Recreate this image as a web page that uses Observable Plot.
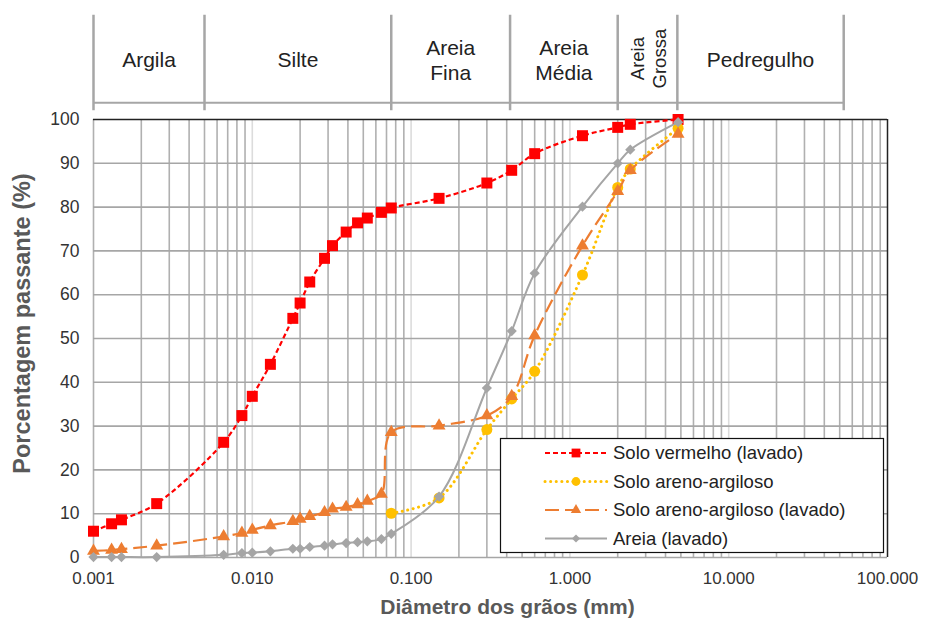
<!DOCTYPE html>
<html><head><meta charset="utf-8">
<script src="https://cdn.jsdelivr.net/npm/d3@7"></script>
<script src="https://cdn.jsdelivr.net/npm/@observablehq/plot@0.6"></script>
<style>body{margin:0;background:#fff} #chart{width:930px;height:625px}</style>
</head><body><div id="chart"></div>
<script>
// ---- data ----
const grainSizes = [0.001, 0.0013, 0.0015, 0.0025, 0.0066, 0.0086, 0.010, 0.013, 0.018, 0.020, 0.023, 0.0285, 0.032, 0.039, 0.046, 0.053, 0.065, 0.075, 0.15, 0.30, 0.43, 0.60, 1.2, 2.0, 2.4, 4.8];
const soloVermelhoLavado = [6.0, 7.7, 8.6, 12.3, 26.3, 32.4, 36.8, 44.1, 54.6, 58.1, 62.9, 68.3, 71.2, 74.3, 76.4, 77.5, 78.8, 79.8, 82.0, 85.5, 88.4, 92.2, 96.3, 98.2, 98.9, 100];
const soloArenoArgiloso = [null, null, null, null, null, null, null, null, null, null, null, null, null, null, null, null, null, 10.1, 13.6, 29.2, 36.2, 42.5, 64.5, 84.5, 88.7, 98.0];
const soloArenoArgilosoLavado = [1.5, 1.7, 1.9, 2.7, 4.8, 5.6, 6.3, 7.3, 8.3, 8.8, 9.4, 10.3, 11.1, 11.5, 12.1, 12.9, 14.5, 28.6, 30.1, 32.4, 36.8, 50.7, 71.2, 83.6, 88.4, 96.7];
const areiaLavado = [0.1, 0.1, 0.1, 0.1, 0.6, 1.0, 1.1, 1.4, 2.0, 2.0, 2.4, 2.7, 3.0, 3.3, 3.5, 3.7, 4.2, 5.4, 13.9, 38.7, 51.7, 64.9, 80.1, 90.0, 93.1, 99.4];
const seriesNames = ["Solo vermelho (lavado)", "Solo areno-argiloso", "Solo areno-argiloso (lavado)", "Areia (lavado)"];
const seriesValues = [soloVermelhoLavado, soloArenoArgiloso, soloArenoArgilosoLavado, areiaLavado];
const xTickValues = [0.001, 0.01, 0.1, 1, 10, 100];
const xTickLabels = ["0.001", "0.010", "0.100", "1.000", "10.000", "100.000"];
const yTickValues = [0, 10, 20, 30, 40, 50, 60, 70, 80, 90, 100];
const classNames = ["Argila", "Silte", "Areia\nFina", "Areia\nMédia", "Areia\nGrossa", "Pedregulho"];
const classBounds = [0.001, 0.005, 0.075, 0.42, 2.0, 4.75, 53];
const xTitle = "Diâmetro dos grãos (mm)";
const yTitle = "Porcentagem passante (%)";

// ---- styles ----
const styles = {
  "Solo vermelho (lavado)": {color: "#FF0000", symbol: "square", r: 6.2, width: 2.2, dash: "5,3", cap: "butt"},
  "Solo areno-argiloso": {color: "#FFC000", symbol: "circle", r: 5.5, width: 3, dash: "0.1,5.5", cap: "round"},
  "Solo areno-argiloso (lavado)": {color: "#ED7D31", symbol: "triangle", r: 4.8, width: 2.2, dash: "14,6", cap: "butt"},
  "Areia (lavado)": {color: "#A5A5A5", symbol: "diamond2", r: 4.6, width: 2, dash: null, cap: "butt"}
};

const rows = [];
seriesNames.forEach((name, s) => {
  seriesValues[s].forEach((v, i) => { if (v != null) rows.push({series: name, size: grainSizes[i], value: v}); });
});

// minor grid positions (2..9 x decade)
const minorGrid = [];
for (let k = -3; k <= 1; k++) for (let m = 2; m <= 9; m++) minorGrid.push(m * Math.pow(10, k));
const decadeGrid = xTickValues.slice(1, -1);

const classRows = classNames.map((n, i) => ({name: n, x: Math.sqrt(classBounds[i] * classBounds[i + 1])}));

const seriesMarks = [];
seriesNames.forEach(name => {
  const st = styles[name];
  const data = rows.filter(d => d.series === name);
  seriesMarks.push(Plot.line(data, {x: "size", y: "value", curve: "catmull-rom", stroke: st.color, strokeWidth: st.width, strokeDasharray: st.dash, strokeLinecap: st.cap}));
  seriesMarks.push(Plot.dot(data, {x: "size", y: "value", symbol: st.symbol, r: st.r, fill: st.color, stroke: "none"}));
});

const font = "'Liberation Sans', Arial, sans-serif";
const chart = Plot.plot({
  width: 930, height: 625,
  marginLeft: 93, marginRight: 43, marginTop: 119, marginBottom: 68,
  style: {fontFamily: font, background: "white", overflow: "visible"},
  x: {type: "log", domain: [0.001, 100]},
  y: {domain: [0, 100]},
  marks: [
    // gridlines
    Plot.ruleX(minorGrid, {stroke: "#B0B0B0", strokeWidth: 1.6}),
    Plot.ruleX(decadeGrid, {stroke: "#DCDCDC", strokeWidth: 1.6}),
    Plot.ruleX([xTickValues[0]], {stroke: "#B0B0B0", strokeWidth: 1.6}),
    Plot.ruleY(yTickValues.slice(0, -1), {stroke: "#A6A6A6", strokeWidth: 1.6}),
    Plot.ruleY([yTickValues[yTickValues.length - 1]], {stroke: "#222", strokeWidth: 1.5}),
    Plot.ruleX([xTickValues[xTickValues.length - 1]], {stroke: "#222", strokeWidth: 1.5}),
    // classification band
    Plot.ruleX(classBounds, {y1: 102, y2: 123.8, stroke: "#A6A6A6", strokeWidth: 2.5}),
    Plot.ruleY([103.8], {x1: classBounds[0], x2: classBounds[classBounds.length - 1], stroke: "#A6A6A6", strokeWidth: 2}),
    Plot.text(classRows.filter(d => !d.name.startsWith("Areia\nG")), {x: "x", y: 113.8, text: "name", fontSize: 21, fill: "#222", lineHeight: 1.2}),
    Plot.text(classRows.filter(d => d.name.startsWith("Areia\nG")), {x: "x", y: 113.9, text: "name", fontSize: 18.5, fill: "#222", rotate: -90, lineHeight: 1.2}),
    // series
    ...seriesMarks,
    // axes
    Plot.axisX(xTickValues, {tickSize: 0, tickPadding: 14, fontSize: 17, fill: "#333", label: null, tickFormat: d => xTickLabels[xTickValues.indexOf(d)]}),
    Plot.axisY(yTickValues, {tickSize: 0, tickPadding: 14, fontSize: 17.5, fill: "#333", label: null}),
    Plot.text([xTitle], {frameAnchor: "bottom", textAnchor: "middle", dy: 56, dx: 17, fontSize: 21, fontWeight: "bold", fill: "#595959"}),
    Plot.text([yTitle], {frameAnchor: "left", textAnchor: "middle", dx: -71, dy: -15, rotate: -90, fontSize: 23.5, fontWeight: "bold", fill: "#595959"})
  ]
});
document.getElementById("chart").appendChild(chart);

// ---- legend (inside plot area) ----
const svg = d3.select(chart);
const lg = svg.append("g").attr("font-family", font).attr("text-anchor", "start");
lg.append("rect").attr("x", 500.5).attr("y", 438.5).attr("width", 383).attr("height", 114)
  .attr("fill", "white").attr("stroke", "#111").attr("stroke-width", 1.2);
const symMap = {square: d3.symbolSquare, circle: d3.symbolCircle, triangle: d3.symbolTriangle, diamond2: d3.symbolDiamond2};
seriesNames.forEach((name, i) => {
  const st = styles[name];
  const cy = 453 + i * 28.5;
  lg.append("line").attr("x1", 545).attr("x2", 607).attr("y1", cy).attr("y2", cy)
    .attr("stroke", st.color).attr("stroke-width", st.width)
    .attr("stroke-dasharray", st.dash).attr("stroke-linecap", st.cap);
  lg.append("path").attr("transform", `translate(576,${cy})`)
    .attr("d", d3.symbol(symMap[st.symbol], Math.PI * (st.r * 0.8) ** 2)())
    .attr("fill", st.color);
  lg.append("text").attr("x", 613).attr("y", cy).attr("dy", "0.35em")
    .attr("font-size", 18.5).attr("fill", "#222").attr("text-anchor", "start").text(name);
});
</script></body></html>
